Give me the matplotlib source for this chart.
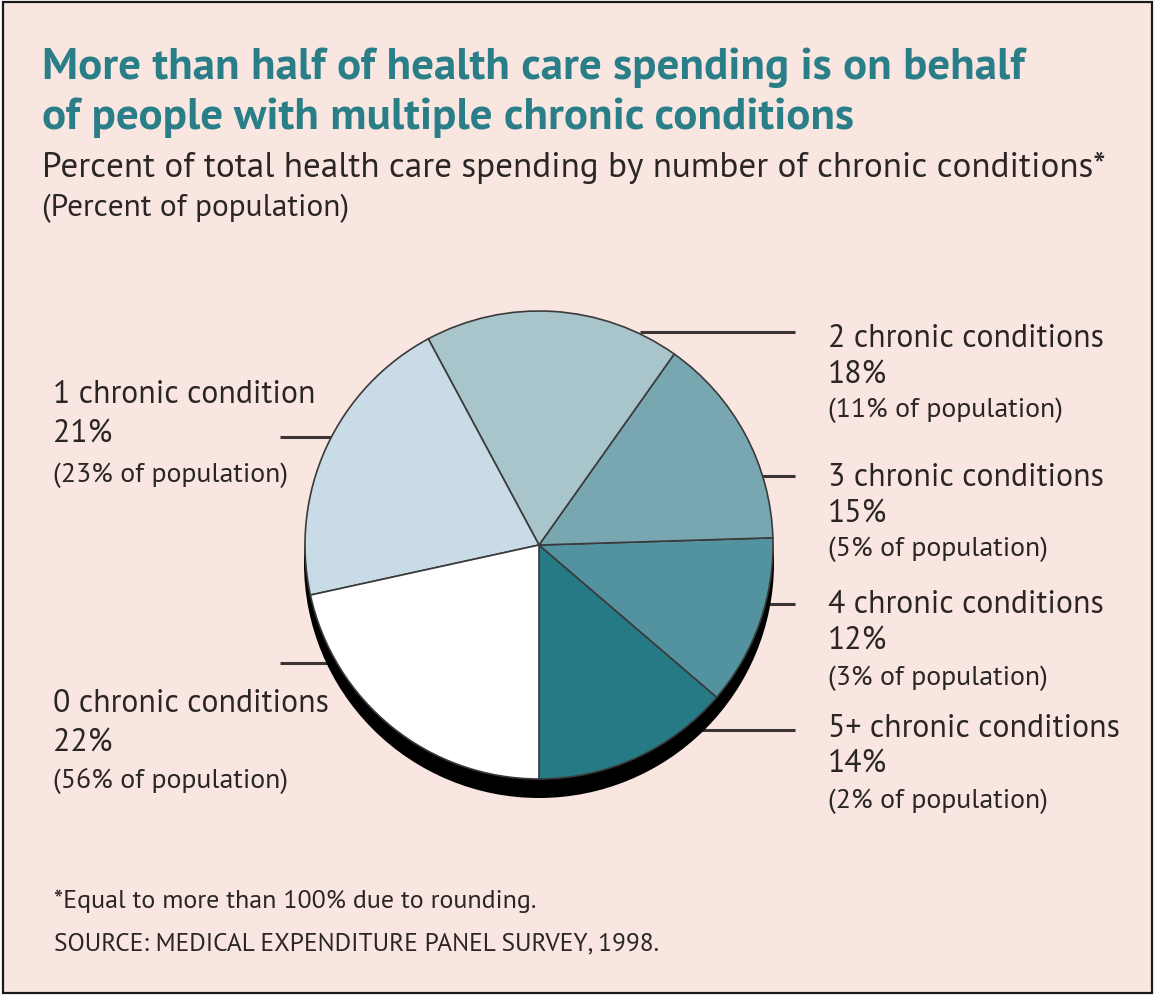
import matplotlib
matplotlib.use("Agg")
import matplotlib.pyplot as plt
from matplotlib import font_manager
from matplotlib.font_manager import FontProperties
from matplotlib.patches import Circle, Rectangle

# ---- data ----
categories = ["5+ chronic conditions", "4 chronic conditions", "3 chronic conditions",
              "2 chronic conditions", "1 chronic condition", "0 chronic conditions"]
spending_pct = [14, 12, 15, 18, 21, 22]
population_pct = [2, 3, 5, 11, 23, 56]
slice_colors = ["#267a85", "#5393a0", "#78a7b1", "#a8c5cc", "#c8dbe7", "#ffffff"]

title_lines = ["More than half of health care spending is on behalf",
               "of people with multiple chronic conditions"]
subtitle = "Percent of total health care spending by number of chronic conditions*"
subtitle2 = "(Percent of population)"
footnote = "*Equal to more than 100% due to rounding."
source = "SOURCE: MEDICAL EXPENDITURE PANEL SURVEY, 1998."


# ---- fonts: a humanist family with real static regular and bold faces ----
def faces(family):
    out = {}
    for f in font_manager.fontManager.ttflist:
        if f.name == family and f.style == "normal" and f.stretch == "normal":
            w = f.weight if isinstance(f.weight, int) else {"normal": 400, "regular": 400, "bold": 700}.get(f.weight, 400)
            out.setdefault(w, f.fname)
    return out

regular_path = bold_path = None
for fam in ["Source Sans 3", "Source Sans Pro", "PT Sans", "Fira Sans", "Open Sans", "Lato", "Noto Sans"]:
    fc = faces(fam)
    if 400 in fc and 700 in fc and fc[400] != fc[700]:
        regular_path, bold_path = fc[400], fc[700]
        break


def fprop(bold=False):
    path = bold_path if bold else regular_path
    if path is None:
        return FontProperties(family="DejaVu Sans", weight="bold" if bold else "normal")
    return FontProperties(fname=path)


BG = "#f9e6e1"
TEAL = "#2a7e88"
INK = "#2b2626"
LINE = "#3d3535"

W, H = 1154, 996
fig = plt.figure(figsize=(W / 100, H / 100), dpi=100)
fig.patch.set_facecolor("white")
ax = fig.add_axes([0, 0, 1, 1])

# pie (y axis inverted below: start at bottom, run counter-clockwise on screen)
cx, cy, r = 539, 545, 234
ax.add_patch(Circle((cx, cy + 18), r + 1, facecolor="black", edgecolor="none", zorder=2))
wedges, _ = ax.pie(spending_pct, colors=slice_colors, startangle=90, counterclock=False,
                   center=(cx, cy), radius=r, frame=True,
                   wedgeprops=dict(edgecolor="#3a3a3a", linewidth=1.2))
for w_ in wedges:
    w_.set_zorder(3)

ax.set_xlim(0, W)
ax.set_ylim(H, 0)
ax.set_aspect("equal")
ax.set_axis_off()

# panel background and border
ax.add_patch(Rectangle((3, 2), 1149, 991, facecolor=BG, edgecolor="#1a1a1a", linewidth=1.6, zorder=0))

renderer = fig.canvas.get_renderer()


def put(x, y, s, target_w=None, size=None, bold=False, color=INK):
    fp = fprop(bold)
    fp.set_size(size if size else 18)
    t = ax.text(x, y, s, fontproperties=fp, color=color)
    if target_w:
        w = t.get_window_extent(renderer).width
        fp.set_size(fp.get_size() * target_w / w)
        t.set_fontproperties(fp)
    return t, fp.get_size()


# titles
_, tfs = put(42, 79, title_lines[0], target_w=981, bold=True, color=TEAL)
put(42, 129, title_lines[1], size=tfs, bold=True, color=TEAL)
put(42, 177, subtitle, target_w=1062)
put(42, 216, subtitle2, target_w=308)

# label sizes from the widest strings of each kind
probe, lab_fs = put(0, 0, "2 chronic conditions", target_w=275)
probe.remove()
probe, pop_fs = put(0, 0, "(11% of population)", target_w=235)
probe.remove()

# x, baselines of the three lines, leader segment (x0, x1, y)
label_layout = {
    "5+ chronic conditions": (828, (737, 773, 808), (700, 795, 730)),
    "4 chronic conditions": (828, (613, 650, 685), (760, 795, 604)),
    "3 chronic conditions": (828, (486, 523, 556), (760, 795, 476)),
    "2 chronic conditions": (828, (347, 384, 417), (640, 795, 332)),
    "1 chronic condition": (53, (403, 443, 482), (280, 335, 437)),
    "0 chronic conditions": (53, (712, 752, 788), (280, 340, 663)),
}
for cat, sp, pp in zip(categories, spending_pct, population_pct):
    x, (b1, b2, b3), (lx0, lx1, ly) = label_layout[cat]
    put(x, b1, cat, size=lab_fs)
    put(x, b2, f"{sp}%", size=lab_fs)
    put(x, b3, f"({pp}% of population)", size=pop_fs)
    ax.plot([lx0, lx1], [ly, ly], color=LINE, lw=2.2, zorder=1, solid_capstyle="butt")

put(54, 908, footnote, target_w=482)
put(54, 950, source, target_w=607)

fig.savefig("out.png", dpi=100, facecolor="white")
